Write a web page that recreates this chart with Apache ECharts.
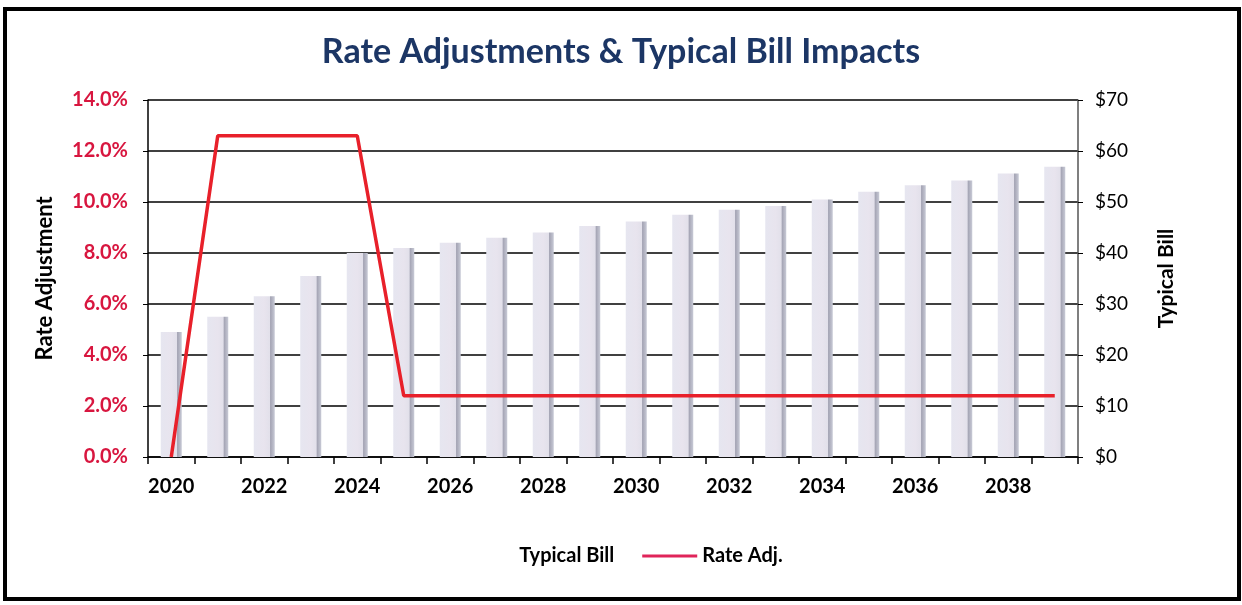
<!DOCTYPE html>
<html>
<head>
<meta charset="utf-8">
<script src="https://cdn.jsdelivr.net/npm/echarts@6/dist/echarts.min.js"></script>
<style>
html,body{margin:0;padding:0;background:#fff;}
#chart{width:1242px;height:605px;}
</style>
</head>
<body>
<div id="chart"></div>
<script>
const years = ['2020','2021','2022','2023','2024','2025','2026','2027','2028','2029','2030','2031','2032','2033','2034','2035','2036','2037','2038','2039'];
const typicalBill = [24.5, 27.5, 31.5, 35.5, 40, 41, 42, 43, 44, 45.3, 46.2, 47.5, 48.5, 49.2, 50.5, 52, 53.3, 54.2, 55.6, 56.9];
const rateAdj = [0.0, 12.6, 12.6, 12.6, 12.6, 2.4, 2.4, 2.4, 2.4, 2.4, 2.4, 2.4, 2.4, 2.4, 2.4, 2.4, 2.4, 2.4, 2.4, 2.4];
const leftTicks = [0, 2, 4, 6, 8, 10, 12, 14];
const rightTicks = [0, 10, 20, 30, 40, 50, 60, 70];

const FONT = 'Lato, "Open Sans", sans-serif';
const chart = echarts.init(document.getElementById('chart'));
chart.setOption({
  animation: false,
  backgroundColor: '#ffffff',
  title: {
    text: 'Rate Adjustments & Typical Bill Impacts',
    left: 'center', top: 30,
    textStyle: {fontFamily: FONT, fontSize: 34, fontWeight: 'bold', color: '#1c3665'}
  },
  graphic: [{
    type: 'rect', shape: {x: 5, y: 9, width: 1234, height: 590},
    style: {fill: 'none', stroke: '#000', lineWidth: 4}, silent: true
  }],
  legend: {
    bottom: 34, left: 'center',
    itemWidth: 55, itemHeight: 3, itemGap: 28,
    textStyle: {fontFamily: FONT, fontSize: 20, fontWeight: 'bold', color: '#000'},
    data: [
      {name: 'Typical Bill', icon: 'rect', itemStyle: {color: '#ffffff'}},
      {name: 'Rate Adj.', icon: 'rect', itemStyle: {color: '#e0245a'}}
    ]
  },
  grid: {left: 148, right: 164, top: 100, bottom: 148},
  xAxis: {
    type: 'category', data: years, boundaryGap: true,
    axisLine: {show: true, lineStyle: {color: '#000', width: 1.5}},
    axisTick: {show: true, interval: 0, length: 7, lineStyle: {color: '#000', width: 1.5}},
    axisLabel: {interval: 1, margin: 20, fontFamily: FONT, fontSize: 20, fontWeight: 'bold', color: '#000'}
  },
  yAxis: [{
    type: 'value', min: 0, max: 14, interval: 2, position: 'left',
    name: 'Rate Adjustment', nameLocation: 'middle', nameGap: 92, nameRotate: 90,
    nameTextStyle: {fontFamily: FONT, fontSize: 22, fontWeight: 'bold', color: '#000'},
    axisLine: {show: true, lineStyle: {color: '#000', width: 1.5}},
    axisTick: {show: true, length: 5, lineStyle: {color: '#000'}},
    axisLabel: {formatter: v => v.toFixed(1) + '%', margin: 20, fontFamily: FONT, fontSize: 20, fontWeight: 'bold', color: '#d8163f'},
    splitLine: {show: true, lineStyle: {color: '#000', width: 1.5}}
  }, {
    type: 'value', min: 0, max: 70, interval: 10, position: 'right',
    name: 'Typical Bill', nameLocation: 'middle', nameGap: 78, nameRotate: 90,
    nameTextStyle: {fontFamily: FONT, fontSize: 21, fontWeight: 'bold', color: '#000'},
    axisLine: {show: true, lineStyle: {color: '#555', width: 1.5}},
    axisTick: {show: true, length: 5, lineStyle: {color: '#000'}},
    axisLabel: {formatter: v => '$' + v, margin: 17, fontFamily: FONT, fontSize: 19, color: '#000'},
    splitLine: {show: false}
  }],
  series: [{
    name: 'Typical Bill', type: 'bar', yAxisIndex: 1, data: typicalBill,
    barWidth: 21,
    itemStyle: {
      color: new echarts.graphic.LinearGradient(0, 0, 1, 0, [
        {offset: 0, color: '#e6e6f0'},
        {offset: 0.5, color: '#e8e4ee'},
        {offset: 0.76, color: '#e2e0ea'},
        {offset: 0.8, color: '#a4a4b4'},
        {offset: 1, color: '#c8cad6'}
      ])
    }
  }, {
    name: 'Rate Adj.', type: 'line', yAxisIndex: 0, data: rateAdj,
    symbol: 'none',
    lineStyle: {color: '#e8202a', width: 3.5},
    itemStyle: {color: '#e8202a'}
  }]
});
</script>
</body>
</html>
